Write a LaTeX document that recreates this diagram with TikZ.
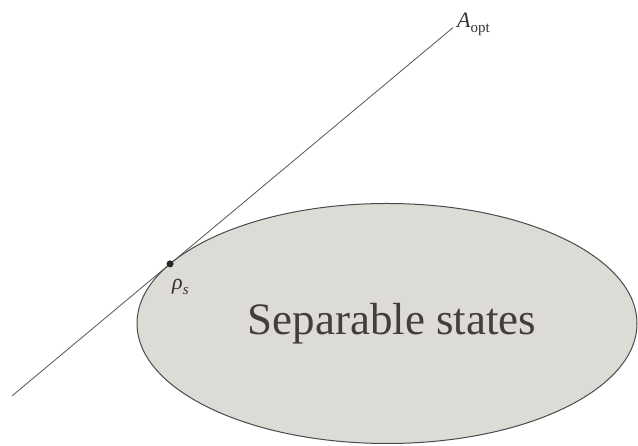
\documentclass[tikz,border=0pt]{standalone}
\usepackage{fontspec}
\setmainfont{Liberation Serif}
\usetikzlibrary{calc}
\definecolor{fillgray}{HTML}{DCDBD6}
\definecolor{edgegray}{HTML}{4A4A4A}
\definecolor{txtgray}{HTML}{433D3E}
\definecolor{linegray}{HTML}{555555}
\tikzset{
  region/.style={draw=edgegray, line width=1pt, fill=fillgray},
  tangentline/.style={draw=linegray, line width=0.8pt},
  dotpoint/.style={circle, fill=black!85, inner sep=0pt, minimum size=7pt},
  biglabel/.style={font=\fontsize{45}{45}\selectfont, text=txtgray, inner sep=0pt},
  smalllabel/.style={font=\fontsize{22}{22}\selectfont, text=txtgray!80!black, inner sep=0pt}
}
\begin{document}
\begin{tikzpicture}[x=1pt,y=1pt]
\useasboundingbox (0,0) rectangle (638,446);
\coordinate (c) at (387,122.5);
\draw[region] (c) ellipse [x radius=250, y radius=120];
\coordinate (rho) at ($(c)+(150.2:250 and 120)$);
\coordinate (lo) at ($(rho)+(-158,-132)$);
\coordinate (hi) at ($(rho)+(283,236.3)$);
\draw[tangentline] (lo) -- (hi);
\node[dotpoint] (pt) at (rho) {};
\node[smalllabel, anchor=base west] (rholab) at (172,156) {\itshape ρ\raisebox{-0.22em}{\fontsize{15}{15}\selectfont s}};
\node[smalllabel, anchor=base west] (alab) at (457,418) {\itshape A\upshape\raisebox{-0.22em}{\fontsize{15}{15}\selectfont opt}};
\node[biglabel, anchor=base] (sep) at (392,111) {Separable states};
\end{tikzpicture}
\end{document}
